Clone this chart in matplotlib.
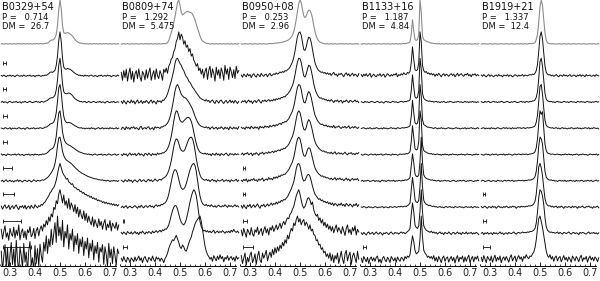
import numpy as np
import matplotlib.pyplot as plt
from matplotlib.ticker import MultipleLocator

names = ["B0329+54", "B0809+74", "B0950+08", "B1133+16", "B1919+21"]
periods = ["0.714", "1.292", "0.253", "1.187", "1.337"]
dms = ["26.7", "5.475", "2.96", "4.84", "12.4"]

# pulse profiles, 95 bins from phase 0.265 to 0.735, in % of peak
# first one of each pulsar is the grey reference, then 8 frequencies top to bottom
b0329_0 = [0,1,0,0,1,0,0,1,0,0, 1,0,0,1,0,1,0,0,1,0, 0,1,0,1,0,0,1,0,1,1,
           0,1,1,0,1,1,2,2,4,7, 9,9,10,14,22,42,78,100,80,42, 26,24,25,26,25,23,21,18,14,10,
           7,5,3,2,2,1,1,0,1,0, 0,1,0,0,1,0,1,0,0,1, 0,0,1,0,1,0,0,1,0,0, 1,0,0,1,0]
b0329_1 = [1,-1,2,0,-2,1,0,2,-1,1, 0,-2,1,2,0,-1,1,-1,2,0, -1,1,0,2,-1,0,1,-2,1,0,
           2,0,-1,1,0,2,1,3,5,8, 9,8,10,13,24,45,80,100,78,40, 20,16,15,17,16,15,13,11,8,6,
           4,3,1,2,0,1,-1,2,0,1, -1,1,2,0,-1,1,0,-2,1,0, 2,-1,0,1,-1,2,0,1,-2,0, 1,0,-1,2,0]
b0329_2 = [0,2,-1,1,0,-2,1,2,0,-1, 1,0,2,-1,0,1,-2,1,0,2, 0,-1,1,2,0,-1,0,1,2,0,
           1,-1,2,1,0,2,3,4,7,9, 10,10,12,16,28,50,84,100,76,42, 24,20,19,20,21,20,18,15,11,8,
           6,4,3,1,2,0,1,2,-1,0, 2,0,-1,1,2,0,-1,1,0,2, -1,1,0,-2,1,2,0,-1,1,0, 2,-1,0,1,0]
b0329_3 = [1,0,-1,2,1,-1,0,2,-2,1, 0,1,-1,0,2,1,-1,0,1,-2, 1,2,0,-1,1,0,2,-1,0,1,
           0,2,1,0,1,3,3,5,7,10, 11,12,15,22,36,62,92,100,82,50, 28,18,14,13,14,13,12,10,8,6,
           5,3,2,1,2,0,1,-1,1,0, 1,-1,2,0,1,-2,0,1,2,-1, 0,2,-1,1,0,1,-1,2,0,1, -1,0,2,-1,1]
b0329_4 = [2,-1,1,0,-2,2,1,0,-1,1, 0,2,-1,1,2,-1,0,1,-2,0, 1,0,2,-1,0,1,-1,2,0,1,
           -1,1,0,2,1,2,3,5,8,11, 13,14,18,26,42,70,95,100,80,52, 38,30,26,24,22,21,19,17,15,13,
           11,9,7,6,5,4,3,2,2,1, 2,0,1,-1,1,2,0,-1,1,0, 2,-1,0,1,-1,0,2,1,-1,0, 1,2,-1,0,1]
b0329_5 = [0,2,-2,1,3,-1,0,2,-1,1, -2,1,0,3,-1,2,0,-2,1,2, 0,-1,2,1,-2,0,3,1,-1,2,
           1,0,2,3,2,4,6,8,11,15, 19,24,30,40,56,80,98,100,86,68, 58,52,48,46,44,42,40,37,34,31,
           28,26,23,21,19,17,16,14,13,11, 10,9,8,7,6,5,5,4,3,3, 2,3,1,2,0,2,1,-1,1,0, 2,0,1,-1,1]
b0329_6 = [3,-4,2,6,-2,0,5,-5,1,4, -3,2,6,-1,-5,3,0,4,-2,5, -4,1,3,-3,5,0,-2,6,2,-1,
           4,2,7,5,10,12,17,22,26,33, 36,42,45,52,62,76,90,100,90,80, 74,70,64,66,58,56,52,54,47,45,
           44,40,41,36,37,32,34,29,30,26, 27,23,25,20,22,18,20,15,17,14, 15,11,13,9,12,8,10,7,9,5, 8,4,7,3,6]
b0329_7 = [10,-12,5,18,-8,2,-15,12,0,-6, 15,-10,8,-4,20,-14,3,11,-9,6, -13,9,2,16,-7,-2,12,-11,7,14,
           -5,10,18,6,22,15,30,20,38,28, 45,38,60,55,75,68,90,100,86,70, 88,65,75,58,80,55,70,62,50,66,
           46,60,38,55,42,34,52,30,46,26, 40,28,20,38,16,32,22,14,34,18, 28,10,24,32,8,22,14,30,6,24, 18,12,26,8,20]
b0329_8 = [20,-25,8,35,-15,28,-30,12,40,-10, 25,-20,45,0,-28,30,10,-18,38,-5, 18,-30,22,42,-12,5,-25,33,-8,26,
           -15,36,10,-5,40,20,55,15,48,30, 70,35,60,85,40,100,55,75,45,90, 30,65,50,80,25,60,45,70,20,55,
           35,60,15,48,30,52,10,42,25,50, 5,38,20,45,0,32,15,40,-5,28, 18,35,-10,30,12,-15,38,5,25,-8, 30,10,-12,25,15]

b0809_0 = [0,0,1,0,0,1,0,0,0,1, 0,0,1,0,0,0,1,0,0,1, 0,1,0,0,1,0,0,1,0,0,
           1,0,0,1,1,1,1,3,8,16, 26,36,48,62,78,95,100,88,72,66, 68,71,73,74,73,72,71,68,62,55,
           45,36,28,18,11,7,5,3,2,1, 1,0,0,1,0,0,1,0,0,1, 0,0,1,0,0,1,0,0,1,0, 0,1,0,0,1]
b0809_1 = [8,-10,12,-4,15,-12,6,18,-8,10, -14,5,12,-6,16,-2,-12,10,4,-9, 14,-5,8,18,-10,3,12,-8,16,0,
           -6,12,4,-10,15,8,18,6,22,28, 38,42,55,62,78,85,100,82,95,88, 72,80,65,70,55,62,45,50,36,30,
           22,28,12,18,4,15,-5,10,18,-8, 12,22,-4,16,6,-12,20,2,14,-6, 18,8,-10,24,4,16,-8,20,10,-4, 14,-6,22,6,12]
b0809_2 = [2,-3,4,0,-4,3,1,-2,5,-1, 3,-4,1,5,-2,0,4,-3,2,-1, 4,1,-3,2,5,-2,3,0,-4,4,
           1,3,-1,5,4,8,12,19,28,38, 48,60,72,88,98,100,94,88,84,76, 72,64,58,55,48,45,40,34,31,26,
           22,18,14,10,8,6,5,3,6,2, 4,-1,3,5,0,-3,4,2,-2,3, 5,0,-3,2,4,-2,1,5,-1,3, -2,4,1,-3,2]
b0809_3 = [-2,3,1,-3,4,0,2,-2,3,1, 4,-1,2,0,-3,3,5,-2,1,2, -1,3,4,-2,0,2,-3,4,1,3,
           2,0,4,3,6,6,9,12,18,26, 38,52,68,85,96,100,94,86,78,74, 71,70,68,64,60,55,50,44,36,28,
           21,15,10,7,5,4,3,2,4,1, 3,-2,2,4,-1,1,3,-2,2,0, 4,1,-2,3,0,2,-3,4,1,-1, 3,0,2,-2,4]
b0809_4 = [1,-2,3,0,2,-3,1,4,-1,2, 0,3,-2,1,4,-1,2,0,-3,3, 2,-1,4,1,-2,3,0,2,-1,4,
           1,3,2,5,4,7,9,14,20,30, 42,58,76,92,100,98,88,79,75,74, 77,80,83,85,85,82,76,66,52,38,
           26,16,10,6,4,3,2,4,1,3, 0,2,-2,3,1,-1,4,0,2,-2, 3,1,-1,2,4,0,-2,3,1,2, -1,3,0,2,1]
b0809_5 = [2,0,-2,3,1,-1,4,0,2,-3, 1,3,0,-2,2,4,-1,1,3,0, -2,2,4,0,3,-1,1,5,2,0,
           3,4,2,6,7,9,12,17,24,34, 46,62,78,90,96,94,86,76,70,68, 68,72,80,88,95,99,100,96,86,70,
           52,36,24,14,8,5,3,2,4,1, 3,-1,2,4,0,2,-2,3,1,0, 2,4,-1,1,3,0,2,-2,3,1, 0,2,4,-1,2]
b0809_6 = [0,3,-1,2,4,-2,1,3,0,-1, 2,4,1,-2,3,0,5,1,-1,3, 4,0,2,5,1,3,-1,4,6,2,
           5,3,7,6,9,10,14,20,30,44, 58,72,82,86,84,76,64,52,44,41, 42,46,54,64,75,85,93,98,100,95,
           82,62,42,26,15,9,6,4,7,3, 5,2,6,3,1,4,0,3,5,2, 1,4,2,6,3,0,5,2,4,1, 3,6,2,4,1]
b0809_7 = [3,-1,4,1,-2,5,2,0,4,-1, 2,5,0,3,-2,4,1,6,2,-1, 4,1,5,3,0,6,2,4,7,3,
           5,8,4,9,7,11,10,14,20,30, 42,52,60,64,63,56,45,34,26,22, 20,24,32,44,58,72,84,94,100,96,
           86,68,46,28,16,10,6,8,4,7, 3,6,2,5,8,1,4,6,2,5, 3,7,4,1,5,3,6,2,8,4, 10,5,3,6,2]
b0809_8 = [4,-3,8,0,-5,6,2,-6,5,1, -4,7,-2,3,9,-1,5,-6,4,8, 0,-5,6,3,-2,9,1,-4,7,2,
           5,-3,4,1,-6,3,8,15,26,34, 40,46,44,50,56,48,40,30,26,34, 30,22,20,28,38,46,52,64,72,82,
           88,92,96,100,88,70,50,32,20,12, 8,2,6,-3,10,4,-2,9,1,12, 3,8,-4,6,2,10,-1,5,8,0, 6,-3,9,2,5]

b0950_0 = [0,0,0,1,0,0,0,1,0,0, 0,1,0,0,0,1,0,0,1,0, 0,0,1,1,1,1,1,2,2,2,
           3,3,4,4,5,6,7,8,10,12, 16,20,28,40,56,75,92,100,94,78, 64,60,64,72,77,76,70,58,42,28,
           18,11,7,4,3,2,1,1,0,1, 0,0,1,0,0,1,0,0,0,1, 0,1,0,0,1,0,0,1,0,0, 0,0,1,0,0]
b0950_1 = [2,-3,4,1,-2,5,0,3,-4,2, 5,0,-3,4,2,-2,6,1,-1,3, 4,-2,3,6,0,2,5,3,7,4,
           6,9,7,10,8,12,11,14,16,20, 26,32,42,56,74,90,98,100,92,76, 60,58,66,80,88,86,76,60,44,30,
           22,16,12,10,8,9,6,8,4,7, 3,6,1,5,8,2,4,-1,5,3, 6,2,-2,4,7,1,5,-1,3,6, 0,4,2,-2,5]
b0950_2 = [-1,3,1,4,-2,2,5,0,3,-3, 2,4,-1,3,6,1,-2,4,2,5, 1,4,6,2,5,3,7,4,8,6,
           9,7,11,10,13,12,16,18,22,26, 32,38,48,62,78,92,100,99,90,74, 60,57,64,76,84,82,72,58,42,30,
           22,16,12,9,10,7,8,5,6,3, 5,2,6,3,-1,4,2,5,0,3, 4,-2,3,1,5,2,-1,4,3,0, 2,5,1,3,-1]
b0950_3 = [3,0,2,-2,4,1,3,-1,5,2, 0,4,1,3,-2,5,2,4,1,6, 3,5,2,7,4,6,8,5,9,7,
           10,12,9,14,13,16,15,19,22,28, 34,40,50,64,80,94,100,98,88,72, 60,58,66,78,84,80,70,56,42,30,
           24,18,14,11,9,10,7,6,8,4, 6,3,5,2,7,1,4,3,6,2, 0,4,2,5,1,3,6,0,2,4, 1,5,2,0,3]
b0950_4 = [1,4,-1,3,2,5,0,2,4,-2, 3,1,5,2,-1,4,3,6,1,4, 5,3,7,4,6,8,5,9,7,10,
           11,9,13,12,15,14,18,20,24,30, 36,42,52,66,82,95,100,96,84,68, 58,56,62,74,80,76,66,54,40,30,
           23,19,15,12,10,8,9,6,7,4, 5,3,6,2,4,7,1,3,5,2, 4,1,3,6,2,0,4,3,5,1, 3,0,4,2,5]
b0950_5 = [2,-1,4,1,5,-2,3,0,4,2, 6,1,3,-1,5,2,4,7,0,3, 5,2,8,4,6,3,9,6,10,7,
           12,10,14,13,16,15,19,22,26,32, 38,44,54,68,84,96,100,96,84,68, 58,56,62,72,76,74,64,52,40,30,
           24,20,16,14,11,12,9,10,7,8, 6,4,7,3,5,8,2,6,4,7, 3,5,1,4,7,2,5,0,4,6, 2,5,3,6,1]
b0950_6 = [4,-2,6,1,-3,5,2,7,-1,3, 6,0,4,8,2,-2,5,3,7,1, 4,8,3,6,10,5,9,7,12,8,
           13,11,16,14,18,17,21,24,30,36, 42,50,58,72,88,98,100,94,80,66, 60,61,68,74,75,70,60,48,38,30,
           26,22,18,20,15,17,12,14,10,13, 8,11,6,10,4,9,7,3,8,5, 10,4,7,2,9,6,3,8,5,1, 7,4,9,2,6]
b0950_7 = [8,-5,12,2,-8,10,4,-3,14,0, -6,9,3,15,-2,6,12,-4,8,16, 2,11,-3,14,8,18,5,12,20,9,
           16,24,12,22,28,20,30,36,34,44, 48,56,62,74,86,94,100,90,76,64, 58,62,70,80,82,76,66,72,54,46,
           40,44,30,36,24,32,18,26,14,22, 10,18,6,16,2,12,20,4,14,8, 0,16,6,-4,12,20,2,10,-2,14, 6,18,-3,10,4]
b0950_8 = [10,-8,4,16,-12,6,-4,12,18,-6, 2,14,-10,8,20,0,-6,16,4,12, 22,-2,10,18,6,24,12,28,16,30,
           20,34,26,40,32,46,38,56,48,62, 72,66,84,78,92,100,86,94,80,88, 92,78,86,80,70,80,66,70,58,56,
           44,46,34,36,24,28,16,20,8,14, 4,16,-2,12,-6,10,2,16,-8,6, 20,2,-8,14,22,-2,10,18,-10,8, 16,4,-6,20,2]

b1133_0 = [0,0,1,0,0,0,1,0,0,0, 1,0,0,0,1,0,0,0,1,0, 0,1,0,0,0,1,0,0,1,0,
           0,1,0,1,1,1,1,2,3,5, 22,55,30,10,8,10,22,100,72,18, 10,8,6,5,4,3,2,2,1,1,
           1,0,1,0,0,1,0,0,1,0, 0,1,0,0,1,0,0,0,1,0, 1,0,0,1,0,0,1,0,0,0, 0,1,0,0,1]
b1133_1 = [3,-2,4,0,5,-1,2,6,-3,1, 4,0,-2,3,1,5,-1,2,4,-3, 1,5,2,-1,3,0,4,2,6,-2,
           3,1,5,2,7,4,3,8,6,10, 30,66,38,14,12,14,30,100,78,24, 12,8,10,5,7,3,6,2,5,-1,
           4,1,6,2,-2,3,5,0,4,2, -1,3,5,1,4,-2,2,6,0,3, 5,1,-1,4,2,6,0,3,-2,4, 2,5,0,3,1]
b1133_2 = [1,0,-1,2,0,1,-1,0,2,1, 0,-1,1,2,0,-1,1,0,-2,1, 2,0,1,-1,0,2,1,0,1,-1,
           0,1,2,1,0,2,1,3,3,5, 26,62,34,12,9,11,26,100,76,20, 9,6,4,3,2,3,1,2,0,1,
           2,0,1,-1,1,0,2,0,-1,1, 0,2,1,0,-1,1,0,2,1,0, 1,-1,0,2,0,1,-1,1,0,2, 0,1,-1,1,0]
b1133_3 = [0,1,2,0,-1,1,0,2,0,-1, 1,0,2,1,-1,0,1,-1,2,0, 1,-1,0,1,2,0,1,0,-1,2,
           1,0,1,2,1,2,2,3,4,6, 28,64,36,13,10,12,28,100,74,20, 9,7,5,3,3,2,2,1,0,2,
           1,-1,1,0,2,0,1,-1,0,1, 2,0,1,-1,0,1,2,0,1,-1, 0,1,0,2,-1,1,0,1,2,0, 1,-1,0,2,0]
b1133_4 = [1,-1,0,2,1,0,-1,1,2,0, 0,2,-1,1,0,1,2,-1,0,1, 2,0,1,0,-1,2,0,1,1,-1,
           0,2,1,1,2,1,3,2,4,7, 30,66,40,14,11,13,30,100,80,22, 10,7,6,4,3,2,3,1,2,0,
           1,2,0,1,-1,1,0,2,0,1, -1,1,0,2,1,0,1,-1,1,0, 2,0,1,-1,1,2,0,1,0,-1, 1,0,2,0,1]
b1133_5 = [0,2,-1,1,0,2,1,-1,0,1, 2,-1,1,0,1,-2,1,2,0,1, -1,1,2,0,1,0,2,-1,1,0,
           2,1,0,2,1,3,2,3,5,8, 34,62,42,16,11,10,14,44,100,42, 14,9,6,5,4,3,2,3,1,2,
           0,1,2,-1,1,0,1,2,0,1, 1,-1,0,1,2,0,-1,1,0,2, 0,1,2,0,-1,1,0,2,1,0, -1,1,0,2,1]
b1133_6 = [1,0,2,1,-1,0,2,0,1,-1, 0,2,1,-1,1,0,1,2,-1,1, 1,0,-1,2,1,0,1,2,0,1,
           2,1,3,1,2,3,2,4,6,10, 40,68,46,18,12,11,16,48,100,46, 16,10,7,6,4,5,3,2,3,1,
           2,0,1,2,0,1,-1,1,2,0, 1,2,0,1,-1,2,1,0,1,2, 0,1,-1,1,2,0,1,0,2,-1, 1,2,0,1,0]
b1133_7 = [2,-2,3,0,-3,2,4,-1,1,3, -2,1,4,0,-1,3,1,-3,2,0, 3,1,-2,2,4,0,-1,3,1,2,
           -1,2,4,1,3,0,2,5,7,12, 44,70,50,20,14,12,18,52,100,50, 18,12,8,6,5,3,6,2,4,1,
           3,-1,2,4,0,2,-2,3,1,0, 4,1,-2,2,3,-1,1,4,0,2, -2,3,1,0,4,-1,2,1,3,-1, 2,0,3,1,-2]
b1133_8 = [4,-6,8,2,-4,6,-8,3,7,-2, 5,-3,6,9,-5,2,-7,4,8,0, -4,6,2,-6,8,3,-2,5,-5,7,
           1,-3,6,4,-2,8,3,9,6,12, 36,55,42,22,14,16,20,48,100,52, 22,16,12,6,9,4,8,2,10,-2,
           6,-4,8,2,-6,5,9,-3,4,7, -5,3,8,-2,6,-7,4,10,-4,6, 2,9,-5,7,-3,5,11,-6,3,8, -4,7,2,9,-2]

b1919_0 = [0,0,1,0,0,0,0,1,0,0, 0,1,0,0,0,0,1,0,0,0, 1,0,0,0,1,0,0,0,0,1,
           0,0,1,0,0,1,0,0,1,1, 1,1,2,3,10,22,50,85,100,88, 55,25,8,3,1,1,0,1,0,0,
           0,0,1,0,0,0,1,0,0,0, 1,0,0,0,1,0,0,0,1,0, 0,0,1,0,0,0,0,1,0,0, 1,0,0,0,1]
b1919_1 = [2,-1,3,0,-2,1,3,-1,2,0, -2,1,2,-1,3,0,1,-2,2,1, 0,3,-1,2,1,-2,0,3,1,-1,
           2,0,1,3,-1,2,1,0,2,3, 2,4,3,6,12,26,56,90,100,84, 52,22,8,4,2,3,0,2,-1,1,
           3,0,-2,2,1,-1,3,0,2,-1, 1,3,-1,0,2,1,-2,2,0,3, -1,2,1,-2,3,0,1,2,-1,0, 2,-1,3,1,0]
b1919_2 = [1,0,-1,2,0,1,2,-1,0,1, 2,0,1,-1,1,0,2,1,-1,0, 1,2,0,-1,1,0,1,2,0,-1,
           0,1,2,0,1,-1,2,1,0,2, 1,3,3,5,11,24,54,92,100,82, 50,20,7,3,2,1,2,0,1,-1,
           1,2,0,1,-1,0,2,1,0,1, -1,1,2,0,1,0,-1,2,1,0, 2,0,1,-1,1,2,0,1,-1,1, 0,1,2,0,1]
b1919_3 = [0,1,2,-1,1,0,1,-1,2,0, 1,-1,0,2,1,0,-1,1,2,0, 2,0,1,1,-1,2,0,1,0,2,
           1,2,0,1,2,0,1,2,1,2, 2,3,4,6,14,30,62,96,100,78, 46,18,7,4,3,2,1,2,0,1,
           2,0,1,-1,1,2,0,1,0,-1, 1,0,2,1,-1,1,0,2,0,1, -1,1,0,2,1,0,2,-1,1,0, 2,1,0,1,-1]
b1919_4 = [1,0,-1,1,2,0,1,-1,0,2, 0,1,2,-1,0,1,1,0,2,-1, 1,0,2,1,0,-1,1,2,0,1,
           2,1,0,2,1,1,2,0,1,2, 2,3,4,7,16,36,72,100,92,98, 60,24,9,4,3,2,1,2,1,0,
           1,2,0,1,-1,1,0,2,1,0, 2,0,1,-1,1,0,2,1,-1,1, 0,2,1,0,1,-1,0,2,1,0, 1,0,2,-1,1]
b1919_5 = [0,2,1,-1,0,1,2,0,-1,1, 1,0,-1,2,1,0,1,-1,1,2, 0,1,2,0,1,2,-1,1,0,1,
           2,1,1,2,0,2,1,2,3,2, 3,4,6,10,22,46,80,100,96,84, 52,22,9,5,3,2,3,1,2,0,
           1,-1,1,2,0,1,0,2,-1,1, 0,2,1,0,1,-1,2,0,1,0, 2,1,-1,1,0,2,1,0,2,-1, 0,1,2,0,1]
b1919_6 = [2,-1,1,3,0,-2,2,1,-1,3, 0,2,-2,1,3,0,1,-1,2,0, 3,1,-1,2,0,3,1,2,-2,1,
           2,0,3,1,2,1,3,2,4,3, 4,5,8,14,30,60,92,100,90,72, 44,20,9,5,3,4,1,3,0,2,
           3,-1,2,0,3,1,-2,2,1,0, 2,1,-1,3,0,2,1,-2,2,0, 1,3,0,-1,2,1,3,0,1,-2, 2,0,1,3,-1]
b1919_7 = [1,3,-2,2,0,3,-1,1,2,-2, 3,0,2,-1,1,4,0,2,-2,1, 2,-1,3,1,0,2,4,1,-1,2,
           3,1,2,4,2,3,2,4,3,5, 5,6,8,12,24,50,82,100,96,86, 66,36,16,8,5,3,4,2,3,1,
           2,4,0,3,1,-1,3,2,0,2, 4,1,-1,2,3,0,2,1,-2,3, 1,3,2,0,-1,2,4,0,2,1, 3,0,2,-1,2]
b1919_8 = [6,-4,10,2,-6,8,3,-2,9,-5, 4,11,-3,6,0,9,-6,3,7,-1, 8,2,-5,6,12,-2,4,9,-4,5,
           10,2,7,-3,8,4,12,6,3,9, 8,14,18,28,46,72,94,100,88,74, 56,38,20,10,6,12,2,8,-3,6,
           9,-2,5,8,-4,3,10,0,6,-3, 7,2,-5,9,4,-2,8,3,-4,6, 11,-3,5,2,8,-5,4,9,0,6, -2,7,3,-4,5]

# time resolution bars (phase width) for the 8 black profiles, 0 = none
bars_0329 = [0.013, 0.013, 0.016, 0.017, 0.036, 0.045, 0.07, 0.11]
bars_0809 = [0, 0, 0, 0, 0, 0, 0.004, 0.016]
bars_0950 = [0, 0, 0, 0, 0.008, 0.008, 0.014, 0.038]
bars_1133 = [0, 0, 0, 0, 0, 0, 0, 0.012]
bars_1919 = [0, 0, 0, 0, 0, 0.006, 0.01, 0.026]

profiles = [
    [b0329_0, b0329_1, b0329_2, b0329_3, b0329_4, b0329_5, b0329_6, b0329_7, b0329_8],
    [b0809_0, b0809_1, b0809_2, b0809_3, b0809_4, b0809_5, b0809_6, b0809_7, b0809_8],
    [b0950_0, b0950_1, b0950_2, b0950_3, b0950_4, b0950_5, b0950_6, b0950_7, b0950_8],
    [b1133_0, b1133_1, b1133_2, b1133_3, b1133_4, b1133_5, b1133_6, b1133_7, b1133_8],
    [b1919_0, b1919_1, b1919_2, b1919_3, b1919_4, b1919_5, b1919_6, b1919_7, b1919_8],
]
bars = [bars_0329, bars_0809, bars_0950, bars_1133, bars_1919]

plt.rcParams['font.family'] = 'DejaVu Sans'

H = 265.5        # plot height in pixels
amp = 0.44       # pixels per % of peak
step = 26.3      # vertical spacing of the stacked profiles

fig = plt.figure(figsize=(6, 2.81), dpi=100)
for k in range(5):
    ax = fig.add_axes([k * 120 / 600, (281 - H) / 281, 120 / 600, H / 281])
    ax.set_xlim(0.26, 0.74)
    ax.set_ylim(0, H)
    for j, prof in enumerate(profiles[k]):
        ph = np.linspace(0.265, 0.735, len(prof))
        if j == 0:
            base = 221.5
            ax.plot(ph, base + amp * np.array(prof), color='#8c8c8c', lw=0.8)
        else:
            base = 5.5 + step * (8 - j)
            ax.plot(ph, base + amp * np.array(prof), color='#111111', lw=0.7)
            w = bars[k][j - 1]
            if w > 0:
                ax.errorbar(0.272 + w / 2, base + 13, xerr=w / 2, fmt='none',
                            ecolor='#111111', elinewidth=0.6, capsize=1.6, capthick=0.6)
    ax.text(0.268, H - 2, names[k], fontsize=7, va='top', ha='left', color='#111111')
    ax.text(0.268, H - 13, "P =   " + periods[k], fontsize=6, va='top', ha='left', color='#111111')
    ax.text(0.268, H - 22, "DM =  " + dms[k], fontsize=6, va='top', ha='left', color='#111111')

    for s in ['left', 'right', 'top']:
        ax.spines[s].set_visible(False)
    ax.spines['bottom'].set_bounds(0.265, 0.725)
    ax.spines['bottom'].set_linewidth(0.7)
    ax.set_yticks([])
    ax.set_xticks([0.3, 0.4, 0.5, 0.6, 0.7])
    ax.set_xticklabels(["0.3", "0.4", "0.5", "0.6", "0.7"])
    ax.xaxis.set_minor_locator(MultipleLocator(0.02))
    ax.tick_params(axis='x', which='major', direction='in', length=3, width=0.6,
                   labelsize=7, pad=2, labelcolor='#222222')
    ax.tick_params(axis='x', which='minor', direction='in', length=1.5, width=0.5)
    ax.patch.set_visible(False)

fig.savefig('out.png', dpi=100)
